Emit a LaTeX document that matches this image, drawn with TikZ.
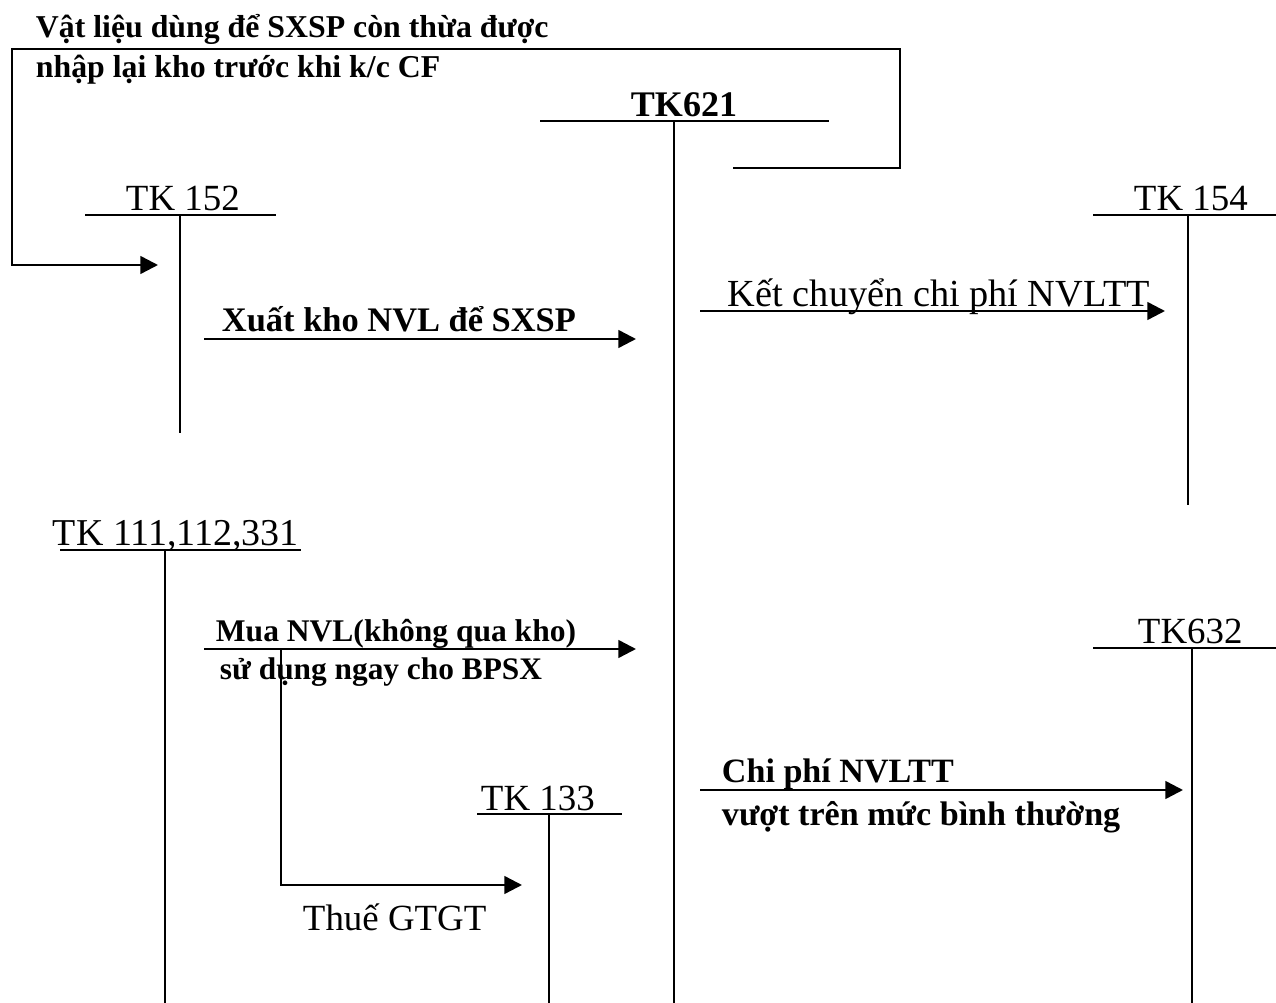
\documentclass[tikz,border=0pt]{standalone}
\usepackage{fontspec}
\setmainfont{Liberation Serif}
\usetikzlibrary{arrows.meta}

\begin{document}
\begin{tikzpicture}[x=0.02cm,y=-0.02cm,line width=1.1pt,
  lbl/.style={inner sep=0pt,anchor=base west,font=\fontsize{#1}{24}\selectfont},
  lbl/.default=21,
  blbl/.style={inner sep=0pt,anchor=base west,font=\fontsize{#1}{22}\selectfont\bfseries},
  blbl/.default=18,
  flow/.style={-{Triangle[length=10pt,width=10pt]},line width=1.4pt}]
\useasboundingbox (0,0) rectangle (1276,1003);
% T accounts: name/title/size/text x/left/right/line y/stem x/stem end
\foreach \nm/\ttl/\fs/\tx/\lx/\rx/\ly/\vx/\vy in {
  t152/TK 152/21/125/85/276/215/180/433,
  t154/TK 154/21/1133/1093/1276/215/1188/505,
  t111/{TK 111,112,331}/21.6/52/60/301/550/165/1003,
  t133/TK 133/21/480/477/622/814/549/1003,
  t632/TK632/21/1137/1093/1276/648/1192/1003}{
  \node[lbl=\fs] (\nm) at (\tx,\ly-4) {\ttl};
  \draw (\lx,\ly) -- (\rx,\ly) (\vx,\ly) -- (\vx,\vy);
}
\node[blbl=20.5] (t621) at (630,117) {TK621};
\draw (540,121) -- (829,121) (674,121) -- (674,1003);

% return of unused material
\node[blbl=18.1] (thua1) at (35,38) {Vật liệu dùng để SXSP còn thừa được};
\node[blbl=18.1] (thua2) at (35,78) {nhập lại kho trước khi k/c CF};
\coordinate (ret0) at (733,168);
\coordinate (ret1) at (158,265);
\draw[flow] (ret0) -| (900,49) -| (12,265) -- (ret1);

% issues to production
\coordinate (xk0) at (204,339);
\coordinate (xk1) at (636,339);
\draw[flow] (xk0) -- (xk1);
\node[blbl=19.6] (xk) at (221,332) {Xuất kho NVL để SXSP};

\coordinate (kc0) at (700,311);
\coordinate (kc1) at (1165,311);
\draw[flow] (kc0) -- (kc1);
\node[lbl=21.8] (kc) at (727,307) {Kết chuyển chi phí NVLTT};

% direct purchase
\coordinate (mua0) at (204,649);
\coordinate (mua1) at (636,649);
\coordinate (vat0) at (281,649);
\coordinate (vat1) at (522,885);
\draw[flow] (mua0) -- (mua1);
\draw[flow] (vat0) |- (vat1);
\node[blbl=17.95] (mua1t) at (215,642) {Mua NVL(không qua kho)};
\node[blbl=17.85] (mua2t) at (219,680) {sử dụng ngay cho BPSX};
\node[lbl] (vat) at (302,930) {Thuế GTGT};

% above normal
\coordinate (vg0) at (700,790);
\coordinate (vg1) at (1183,790);
\draw[flow] (vg0) -- (vg1);
\node[blbl=19.4] (vg1t) at (721,783) {Chi phí NVLTT};
\node[blbl=19.4] (vg2t) at (721,826) {vượt trên mức bình thường};
\end{tikzpicture}
\end{document}
